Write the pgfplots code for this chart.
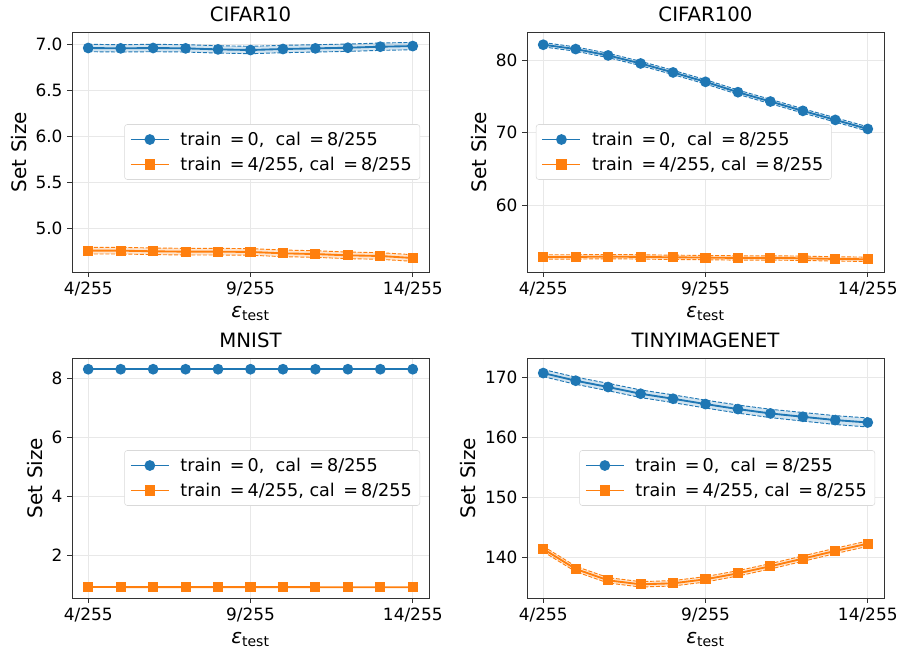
\documentclass[border=0pt]{standalone}
\usepackage{pgfplots}
\pgfplotsset{compat=1.18}
\usepackage{pgfplotstable}
\usepackage{fontspec}
\setmainfont{DejaVu Sans}
\definecolor{c1}{HTML}{1F77B4}
\definecolor{c2}{HTML}{FF7F0E}

% columns: x, mean, lower, upper
\pgfplotstableread{
x y lo hi
0 6.960 6.920 7.000
1 6.956 6.916 6.996
2 6.960 6.920 7.000
3 6.956 6.916 6.996
4 6.945 6.905 6.985
5 6.938 6.898 6.978
6 6.949 6.909 6.989
7 6.956 6.916 6.996
8 6.963 6.923 7.003
9 6.974 6.934 7.014
10 6.981 6.941 7.021
}\cifarTenA
\pgfplotstableread{
x y lo hi
0 4.757 4.721 4.793
1 4.757 4.721 4.793
2 4.750 4.714 4.786
3 4.746 4.710 4.782
4 4.746 4.710 4.782
5 4.743 4.707 4.779
6 4.728 4.692 4.764
7 4.720 4.684 4.756
8 4.706 4.670 4.742
9 4.699 4.663 4.735
10 4.677 4.641 4.713
}\cifarTenB
\pgfplotstableread{
x y lo hi
0 82.17 81.87 82.47
1 81.57 81.27 81.87
2 80.69 80.39 80.99
3 79.58 79.28 79.88
4 78.34 78.04 78.64
5 77.04 76.74 77.34
6 75.61 75.31 75.91
7 74.32 74.02 74.62
8 73.03 72.73 73.33
9 71.78 71.48 72.08
10 70.53 70.23 70.83
}\cifarHunA
\pgfplotstableread{
x y lo hi
0 52.84 52.54 53.14
1 52.84 52.54 53.14
2 52.89 52.59 53.19
3 52.84 52.54 53.14
4 52.79 52.49 53.09
5 52.75 52.45 53.05
6 52.70 52.40 53.00
7 52.70 52.40 53.00
8 52.66 52.36 52.96
9 52.56 52.26 52.86
10 52.52 52.22 52.82
}\cifarHunB
\pgfplotstableread{
x y
0 8.318
1 8.318
2 8.318
3 8.318
4 8.318
5 8.318
6 8.318
7 8.318
8 8.318
9 8.318
10 8.318
}\mnistA
\pgfplotstableread{
x y
0 0.910
1 0.906
2 0.905
3 0.905
4 0.904
5 0.904
6 0.903
7 0.902
8 0.902
9 0.901
10 0.900
}\mnistB
\pgfplotstableread{
x y lo hi
0 170.78 170.18 171.38
1 169.50 168.90 170.10
2 168.44 167.82 169.06
3 167.32 166.68 167.96
4 166.48 165.83 167.13
5 165.59 164.93 166.25
6 164.75 164.07 165.43
7 164.02 163.32 164.72
8 163.46 162.74 164.18
9 162.91 162.17 163.65
10 162.51 161.75 163.27
}\tinyA
\pgfplotstableread{
x y lo hi
0 141.34 140.89 141.79
1 137.99 137.54 138.44
2 136.09 135.64 136.54
3 135.42 134.97 135.87
4 135.59 135.14 136.04
5 136.26 135.81 136.71
6 137.26 136.81 137.71
7 138.44 137.99 138.89
8 139.72 139.27 140.17
9 141.01 140.56 141.46
10 142.23 141.78 142.68
}\tinyB

\pgfplotsset{
 panel/.style={
  width=267.75pt, height=180pt, scale only axis,
  xmin=-0.5, xmax=10.5,
  xtick={0,5,10}, xticklabels={4/255,9/255,14/255},
  grid=major, major grid style={black!9, line width=0.6pt},
  tick align=outside, tick pos=left, major tick length=3.6pt,
  tick style={black!80, line width=0.6pt},
  axis line style={black!80, line width=0.6pt},
  ticklabel style={font=\fontsize{12.7}{15}\selectfont},
  /pgf/number format/assume math mode=true,
  title style={font=\fontsize{14.8}{17}\selectfont, yshift=-2pt},
  label style={font=\fontsize{15}{17}\selectfont},
  xlabel style={yshift=-1pt},
  xlabel={\textit{ε}\textsubscript{test}},
  ylabel={Set Size},
  legend cell align=left,
  legend image code/.code={\draw[line width=1.4pt, mark repeat=2, mark phase=2] plot coordinates {(0pt,0pt) (14.25pt,0pt) (28.5pt,0pt)};},
  legend style={font=\fontsize{13.2}{15}\selectfont, draw=black!15, rounded corners=2pt,
    fill=white, row sep=3.2pt, inner xsep=4pt, inner ysep=3.5pt,
    /tikz/every odd column/.append style={column sep=6pt}},
 },
 mainA/.style={c1, line width=1.4pt, mark=*, mark size=3.3pt, mark options={solid}},
 mainB/.style={c2, line width=1.4pt, mark=square*, mark size=3.1pt, mark options={solid}},
 bandline/.style={dash pattern=on 3pt off 1.3pt, line width=0.7pt, forget plot},
 bandfill/.style={draw=none, fill opacity=0.2, forget plot},
}
\newcommand{\bandlines}[2]{%
  \addplot[#2, bandline] table[x=x, y=hi] {#1};
  \addplot[#2, bandline] table[x=x, y=lo] {#1};
}
\newcommand{\legA}{train\ \,=\,0,\ \ cal\ \,=\,8/255}
\newcommand{\legB}{train\ \,=\,4/255, cal\ \,=\,8/255}

\begin{document}
\begin{tikzpicture}
\useasboundingbox (0,0) rectangle (675pt,490.5pt);
% CIFAR10
\begin{axis}[panel, at={(54pt,286.5pt)}, anchor=south west,
  title={CIFAR10}, ymin=4.525, ymax=7.134,
  ytick={5.0,5.5,6.0,6.5,7.0},
  yticklabel style={/pgf/number format/.cd, fixed, fixed zerofill, precision=1},
  legend style={at={(0.975,0.5)}, anchor=east}]
\addplot[c1, fill=c1, bandfill] coordinates {(0,7.000)(1,6.996)(2,7.000)(3,6.996)(4,6.985)(5,6.978)(6,6.989)(7,6.996)(8,7.003)(9,7.014)(10,7.021)
 (10,6.941)(9,6.934)(8,6.923)(7,6.916)(6,6.909)(5,6.898)(4,6.905)(3,6.916)(2,6.920)(1,6.916)(0,6.920)} -- cycle;
\addplot[c2, fill=c2, bandfill] coordinates {(0,4.793)(1,4.793)(2,4.786)(3,4.782)(4,4.782)(5,4.779)(6,4.764)(7,4.756)(8,4.742)(9,4.735)(10,4.713)
 (10,4.641)(9,4.663)(8,4.670)(7,4.684)(6,4.692)(5,4.707)(4,4.710)(3,4.710)(2,4.714)(1,4.721)(0,4.721)} -- cycle;
\bandlines{\cifarTenA}{c1}
\bandlines{\cifarTenB}{c2}
\addplot[mainA] table[x=x,y=y] {\cifarTenA};
\addplot[mainB] table[x=x,y=y] {\cifarTenB};
\legend{\legA,\legB}
\end{axis}
% CIFAR100
\begin{axis}[panel, at={(395.25pt,286.5pt)}, anchor=south west,
  title={CIFAR100}, ymin=50.76, ymax=83.93,
  ytick={60,70,80},
  legend style={at={(0.025,0.5)}, anchor=west}]
\addplot[c1, fill=c1, bandfill] coordinates {(0,82.47)(1,81.87)(2,80.99)(3,79.88)(4,78.64)(5,77.34)(6,75.91)(7,74.62)(8,73.33)(9,72.08)(10,70.83)
 (10,70.23)(9,71.48)(8,72.73)(7,74.02)(6,75.31)(5,76.74)(4,78.04)(3,79.28)(2,80.39)(1,81.27)(0,81.87)} -- cycle;
\addplot[c2, fill=c2, bandfill] coordinates {(0,53.14)(1,53.14)(2,53.19)(3,53.14)(4,53.09)(5,53.05)(6,53.00)(7,53.00)(8,52.96)(9,52.86)(10,52.82)
 (10,52.22)(9,52.26)(8,52.36)(7,52.40)(6,52.40)(5,52.45)(4,52.49)(3,52.54)(2,52.59)(1,52.54)(0,52.54)} -- cycle;
\bandlines{\cifarHunA}{c1}
\bandlines{\cifarHunB}{c2}
\addplot[mainA] table[x=x,y=y] {\cifarHunA};
\addplot[mainB] table[x=x,y=y] {\cifarHunB};
\legend{\legA,\legB}
\end{axis}
% MNIST
\begin{axis}[panel, at={(54pt,42pt)}, anchor=south west,
  title={MNIST}, ymin=0.534, ymax=8.70,
  ytick={2,4,6,8},
  legend style={at={(0.975,0.5)}, anchor=east}]
\addplot[mainA] table[x=x,y=y] {\mnistA};
\addplot[mainB] table[x=x,y=y] {\mnistB};
\legend{\legA,\legB}
\end{axis}
% TINYIMAGENET
\begin{axis}[panel, at={(395.25pt,42pt)}, anchor=south west,
  title={TINYIMAGENET}, ymin=133.13, ymax=173.3,
  ytick={140,150,160,170},
  legend style={at={(0.975,0.5)}, anchor=east}]
\addplot[c1, fill=c1, bandfill] coordinates {(0,171.38)(1,170.10)(2,169.06)(3,167.96)(4,167.13)(5,166.25)(6,165.43)(7,164.72)(8,164.18)(9,163.65)(10,163.27)
 (10,161.75)(9,162.17)(8,162.74)(7,163.32)(6,164.07)(5,164.93)(4,165.83)(3,166.68)(2,167.82)(1,168.90)(0,170.18)} -- cycle;
\addplot[c2, fill=c2, bandfill] coordinates {(0,141.79)(1,138.44)(2,136.54)(3,135.87)(4,136.04)(5,136.71)(6,137.71)(7,138.89)(8,140.17)(9,141.46)(10,142.68)
 (10,141.78)(9,140.56)(8,139.27)(7,137.99)(6,136.81)(5,135.81)(4,135.14)(3,134.97)(2,135.64)(1,137.54)(0,140.89)} -- cycle;
\bandlines{\tinyA}{c1}
\bandlines{\tinyB}{c2}
\addplot[mainA] table[x=x,y=y] {\tinyA};
\addplot[mainB] table[x=x,y=y] {\tinyB};
\legend{\legA,\legB}
\end{axis}
\end{tikzpicture}
\end{document}
